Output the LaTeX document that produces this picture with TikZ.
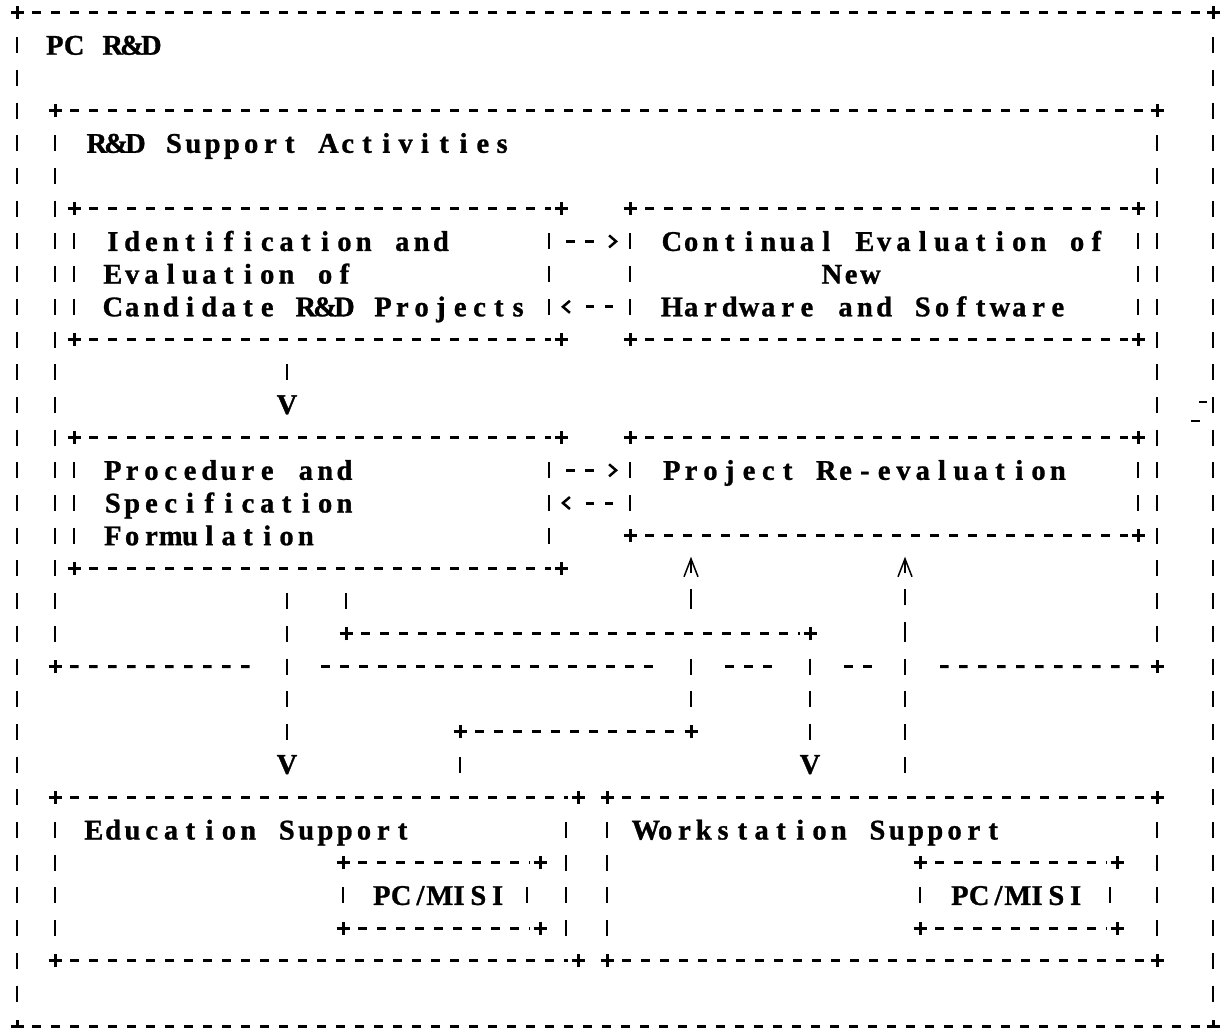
\documentclass[tikz,border=0pt]{standalone}
\usepackage{fontspec}
\setmainfont{Liberation Serif}[BoldFeatures={FakeBold=1}]
\usetikzlibrary{arrows.meta}

% every character of a label sits in a cell of fixed width, like a line printer
\ExplSyntaxOn
\cs_new_protected:Npn \monotext #1
  { \str_map_inline:nn {#1} { \makebox[19.3bp]{##1} } }
\ExplSyntaxOff
\newcommand\prt{\fontsize{28.5bp}{32.7bp}\selectfont\bfseries}

% row k of the character grid lies at y = 12.5 + 32.7 k
\newcommand\Yr[1]{12.5+32.7*(#1)}

\tikzset{
  area/.style={draw=none, inner sep=0pt, outer sep=0pt},
  hline/.style={line width=3bp, dash pattern=on 8.5bp off 10.5bp},
  vline/.style={line width=2.9bp, dash pattern=on 16bp off 16.7bp},
  vconn/.style={line width=2.9bp, dash pattern=on 16bp off 16.7bp,
    dash phase=16bp, shorten <=8bp},
  hconn/.style={line width=3bp, dash pattern=on 8.5bp off 10.5bp on 8.5bp off 60bp,
    shorten <=17bp, shorten >=12bp,
    -{Straight Barb[length=7bp,width=12bp,line width=2.5bp]}},
  upconn/.style={vconn, shorten >=21bp,
    -{Straight Barb[length=18bp,width=14bp,line width=1.5bp]}},
  txt/.style={anchor=base west, inner sep=0pt, font=\prt},
  vhead/.style={inner sep=0pt, font=\prt},
  plusmark/.pic={\draw[line width=3bp] (-6.5bp,0) -- (6.5bp,0) (0,-6.5bp) -- (0,6.5bp);}
}

% a box spanning x from #2 to #3 and rows #4 to #5
\newcommand\boxat[5]{%
  \node[area, minimum width={(#3-#2)*1bp}, minimum height={32.7bp*(#5-#4)}]
    (#1) at ({(#2+#3)/2},{12.5+32.7*(#4+#5)/2}) {};}
% a dashed edge with a plus at each end; #3 moves the right plus outwards
\newcommand\hedge[3]{%
  \draw[hline] ([xshift=15bp]#1) -- ([xshift={#3bp-10bp}]#2);
  \pic at (#1) {plusmark};
  \pic at ([xshift=#3bp]#2) {plusmark};}
% bars on every row between the top and bottom edges
\newcommand\walls[1]{%
  \draw[vline] ([yshift=-24.7bp]#1.north west) -- ([yshift=24.7bp]#1.south west);
  \draw[vline] ([yshift=-24.7bp]#1.north east) -- ([yshift=24.7bp]#1.south east);}
\newcommand\frameit[2]{%
  \hedge{#1.north west}{#1.north east}{#2}%
  \hedge{#1.south west}{#1.south east}{#2}%
  \walls{#1}}

\begin{document}
\begin{tikzpicture}[x=1bp, y=-1bp]
\useasboundingbox (0,0) rectangle (1220,1028);
\fill[white] (0,0) rectangle (1220,1028);

% boxes
\boxat{outer}{17}{1213}{0}{31}
\boxat{rd}{55}{1157}{3}{20}
\boxat{ident}{74}{549}{6}{10}
\boxat{cont}{630}{1138}{6}{10}
\boxat{proc}{74}{549}{13}{17}
\boxat{reeval}{630}{1138}{13}{16}
\boxat{edu}{55}{566}{24}{29}
\boxat{ws}{607}{1157}{24}{29}
\boxat{pcma}{343}{527}{26}{28}
\boxat{pcmb}{920}{1110}{26}{28}

\frameit{outer}{0}
\hedge{rd.north west}{rd.north east}{0}
\walls{rd}
\frameit{ident}{12}
\frameit{cont}{0}
\frameit{proc}{12}
\frameit{reeval}{0}
\frameit{edu}{12}
\frameit{ws}{0}
\frameit{pcma}{13}
\frameit{pcmb}{7}

% bottom edge of the support activities box, broken where lines pass
\pic at (rd.south west) {plusmark};
\pic at (rd.south east) {plusmark};
\draw[hline] ([xshift=15bp]rd.south west) -- (253,{\Yr{20}});
\draw[hline] (321,{\Yr{20}}) -- (657,{\Yr{20}});
\draw[hline] (725,{\Yr{20}}) -- (776,{\Yr{20}});
\draw[hline] (844,{\Yr{20}}) -- (872,{\Yr{20}});
\draw[hline] (940,{\Yr{20}}) -- ([xshift=-10bp]rd.south east);

% labels
\node[txt] (tpc) at (45,{\Yr{1}+9.5}) {\monotext{PC R&D}};
\node[txt] (trd) at (87,{\Yr{4}+9.5}) {\monotext{R&D Support Activities}};
\node[txt] (tid1) at (103,{\Yr{7}+9.5}) {\monotext{Identification and}};
\node[txt] (tid2) at (103,{\Yr{8}+9.5}) {\monotext{Evaluation of}};
\node[txt] (tid3) at (103,{\Yr{9}+9.5}) {\monotext{Candidate R&D Projects}};
\node[txt] (tce1) at (662,{\Yr{7}+9.5}) {\monotext{Continual Evaluation of}};
\node[txt] (tce2) at (822,{\Yr{8}+9.5}) {\monotext{New}};
\node[txt] (tce3) at (662,{\Yr{9}+9.5}) {\monotext{Hardware and Software}};
\node[txt] (tpr1) at (103,{\Yr{14}+9.5}) {\monotext{Procedure and}};
\node[txt] (tpr2) at (103,{\Yr{15}+9.5}) {\monotext{Specification}};
\node[txt] (tpr3) at (103,{\Yr{16}+9.5}) {\monotext{Formulation}};
\node[txt] (tre) at (662,{\Yr{14}+9.5}) {\monotext{Project Re-evaluation}};
\node[txt] (ted) at (84,{\Yr{25}+9.5}) {\monotext{Education Support}};
\node[txt] (tws) at (636,{\Yr{25}+9.5}) {\monotext{Workstation Support}};
\node[txt] (tpa) at (372,{\Yr{27}+9.5}) {\monotext{PC/MISI}};
\node[txt] (tpb) at (950,{\Yr{27}+9.5}) {\monotext{PC/MISI}};

% arrow heads drawn as letters
\node[vhead] (v1) at (287,{\Yr{12}}) {V};
\node[vhead] (v2) at (287,{\Yr{23}}) {V};
\node[vhead] (v3) at (810,{\Yr{23}}) {V};

% turning points and helper rows
\coordinate (j1) at (346,{\Yr{19}});
\coordinate (j2) at (810,{\Yr{19}});
\coordinate (j3) at (460,{\Yr{22}});
\coordinate (j4) at (691,{\Yr{22}});
\coordinate (c5) at (905,{\Yr{20}});
\coordinate (r7) at (0,{\Yr{7}});
\coordinate (r9) at (0,{\Yr{9}});
\coordinate (r14) at (0,{\Yr{14}});
\coordinate (r15) at (0,{\Yr{15}});

% side arrows between neighbouring boxes
\draw[hconn] (ident.north east |- r7) -- (cont.north west |- r7);
\draw[hconn] (cont.north west |- r9) -- (ident.north east |- r9);
\draw[hconn] (proc.north east |- r14) -- (reeval.north west |- r14);
\draw[hconn] (reeval.north west |- r15) -- (proc.north east |- r15);

% downward lines
\draw[vconn] (ident.south -| v1) -- (v1.north);
\draw[vconn] (proc.south -| v2) -- (v2.north);
\draw[vconn, shorten >=8bp] (proc.south -| j1) -- (j1);
\draw[hline] ([xshift=15bp]j1) -- ([xshift=-10bp]j2);
\pic at (j1) {plusmark};
\pic at (j2) {plusmark};
\draw[vconn] (j2) -- (v3.north);

% upward lines into the re-evaluation box
\draw[vconn, shorten >=8bp] (edu.north -| j3) -- (j3);
\draw[hline] ([xshift=15bp]j3) -- ([xshift=-10bp]j4);
\pic at (j3) {plusmark};
\pic at (j4) {plusmark};
\draw[upconn, dash pattern=on 16bp off 16.7bp on 16bp off 16.7bp on 16bp off 49.4bp on 19.7bp off 16.7bp]
  (j4) -- (reeval.south -| j4);
\draw[upconn, dash pattern=on 16bp off 16.7bp on 16bp off 16.7bp on 16bp off 16.7bp on 16bp off 16.7bp on 16bp off 16.7bp on 19.7bp off 16.7bp]
  (ws.north -| c5) -- (reeval.south -| c5);

% small stray strokes beside the right wall
\draw[line width=2bp] (1199,402) -- (1207,402);
\draw[line width=2bp] (1191,421) -- (1200,421);
\end{tikzpicture}
\end{document}
